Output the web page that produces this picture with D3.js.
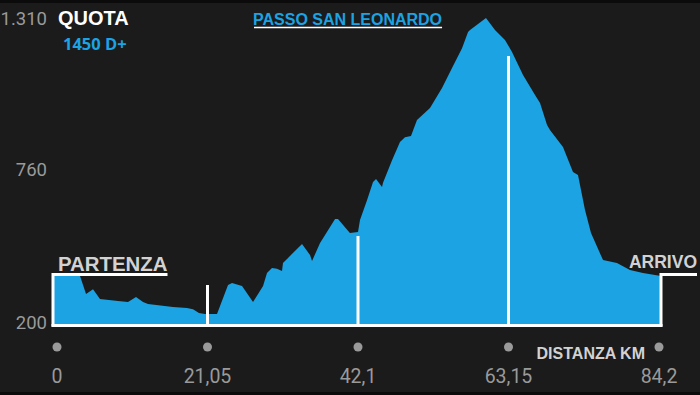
<!DOCTYPE html>
<html><head><meta charset="utf-8">
<script src="https://cdn.jsdelivr.net/npm/d3@7"></script>
<style>html,body{margin:0;padding:0;background:#1b1b1b;}svg{display:block;}</style>
</head><body>
<svg id="c" width="700" height="395"></svg>
<script>
// Profile: distance (km) and elevation (m)
const distKm = [-0.56,3.22,4.06,5.04,6.01,8.53,9.93,11.05,12.03,12.73,16.22,18.18,19.02,19.86,20.70,22.38,23.92,24.48,25.88,27.42,28.82,29.37,30.07,30.77,31.47,31.61,32.31,34.27,35.39,35.67,36.79,38.89,39.30,40.97,42.10,42.38,43.36,44.20,44.62,45.46,45.60,46.86,47.97,48.67,49.51,50.35,52.17,53.85,55.25,56.65,57.49,57.77,60.00,61.26,62.66,63.64,65.18,66.86,67.56,68.54,68.95,70.77,72.17,72.87,73.85,74.69,76.37,78.32,80.14,81.96,84.48];
const elevM = [368,368,302,320,284,277,273,291,273,266,255,251,247,233,229,229,335,342,331,273,331,379,397,394,386,415,434,485,445,423,488,576,576,525,529,572,645,711,722,693,708,791,857,875,879,938,981,1054,1127,1200,1259,1266,1310,1266,1230,1186,1102,1029,1000,919,901,839,748,737,609,525,426,415,390,379,368];
const xTicks = [0,21.05,42.1,63.15,84.2];
const xTickLabels = ["0","21,05","42,1","63,15","84,2"];
const yTicks = [200,760,1310];
const yTickLabels = ["200","760","1.310"];
const markerKm = [21.05,42.1,63.15];
const markerTop = [335,514,1171];
const frameElev = 373;
const startKm = -0.56, endKm = 84.48;
const title = "PASSO SAN LEONARDO";
const yTitle = "QUOTA";
const gain = "1450 D+";
const xTitle = "DISTANZA KM";
const startLabel = "PARTENZA", endLabel = "ARRIVO";

const svg = d3.select("#c");
const W = 700, H = 395;
const blue = "#1ba3e3", gray = "#9a9a9a", light = "#d2d2d2";
const x = d3.scaleLinear().domain([0,84.2]).range([57,659]);
const y = d3.scaleLinear().domain([200,1310]).range([322,18]);
const base = y(200) + 2.5;

svg.append("rect").attr("width",W).attr("height",H).attr("fill","#1b1b1b");
svg.append("rect").attr("width",W).attr("height",3).attr("fill","#0b0b0b");
svg.append("rect").attr("y",H-3).attr("width",W).attr("height",3).attr("fill","#0b0b0b");

const pts = distKm.map((d,i)=>({d, e:elevM[i]}));
const area = d3.area().x(p=>x(p.d)).y0(base).y1(p=>y(p.e));
svg.append("path").datum(pts).attr("d",area).attr("fill",blue);

// markers
svg.selectAll("line.mk").data(markerKm).join("line").attr("class","mk")
  .attr("x1",d=>x(d)).attr("x2",d=>x(d)).attr("y1",(d,i)=>y(markerTop[i])).attr("y2",base+1)
  .attr("stroke","#fff").attr("stroke-width",3);

// baseline
svg.append("line").attr("x1",x(startKm)-1.5).attr("x2",x(endKm)+1.5).attr("y1",base+1).attr("y2",base+1)
  .attr("stroke","#fff").attr("stroke-width",3);

// labels start/end
const fB = "'Liberation Sans', Arial, sans-serif";
const st = svg.append("text").attr("x",58).attr("y",271).attr("fill",light)
  .attr("font-family",fB).attr("font-weight","bold").attr("font-size",20.4).text(startLabel);
const stW = st.node().getComputedTextLength();
svg.append("path").attr("d",`M${x(startKm)},${base+2} V${y(frameElev)} H${58+stW}`)
  .attr("fill","none").attr("stroke","#fff").attr("stroke-width",3);
const en = svg.append("text").attr("x",697).attr("y",268).attr("text-anchor","end").attr("fill",light)
  .attr("font-family",fB).attr("font-weight","bold").attr("font-size",17.5).text(endLabel);
svg.append("path").attr("d",`M${x(endKm)},${base+2} V${y(frameElev)} H697`)
  .attr("fill","none").attr("stroke","#fff").attr("stroke-width",3);

// titles
svg.append("text").attr("x",58).attr("y",25).attr("fill","#fff").attr("font-family",fB)
  .attr("font-weight","bold").attr("font-size",20).text(yTitle);
svg.append("text").attr("x",63).attr("y",50).attr("fill",blue).attr("font-family","'Open Sans', sans-serif")
  .attr("font-weight","bold").attr("font-size",16.5).text(gain);
const tt = svg.append("text").attr("x",253).attr("y",25).attr("fill",blue).attr("font-family",fB)
  .attr("font-weight","bold").attr("font-size",16).text(title);
const ttW = tt.node().getComputedTextLength();
svg.append("line").attr("x1",254).attr("x2",253+ttW).attr("y1",27.5).attr("y2",27.5)
  .attr("stroke","#fff").attr("stroke-width",1.5);
svg.append("text").attr("x",645).attr("y",359).attr("text-anchor","end").attr("fill",light)
  .attr("font-family",fB).attr("font-weight","bold").attr("font-size",16).text(xTitle);

// y tick labels
svg.selectAll("text.yt").data(yTicks).join("text").attr("class","yt")
  .attr("x",47).attr("y",d=>y(d)).attr("dy","0.38em").attr("text-anchor","end")
  .attr("fill",gray).attr("font-family","Roboto, sans-serif").attr("font-size",18.5)
  .text((d,i)=>yTickLabels[i]);

// x ticks: dots and labels
svg.selectAll("circle.xd").data(xTicks).join("circle").attr("class","xd")
  .attr("cx",d=>x(d)).attr("cy",347).attr("r",4.5).attr("fill",gray);
svg.selectAll("text.xt").data(xTicks).join("text").attr("class","xt")
  .attr("x",d=>x(d)).attr("y",383).attr("text-anchor","middle")
  .attr("fill",gray).attr("font-family","Roboto, sans-serif").attr("font-size",19.5)
  .text((d,i)=>xTickLabels[i]);
</script>
</body></html>
